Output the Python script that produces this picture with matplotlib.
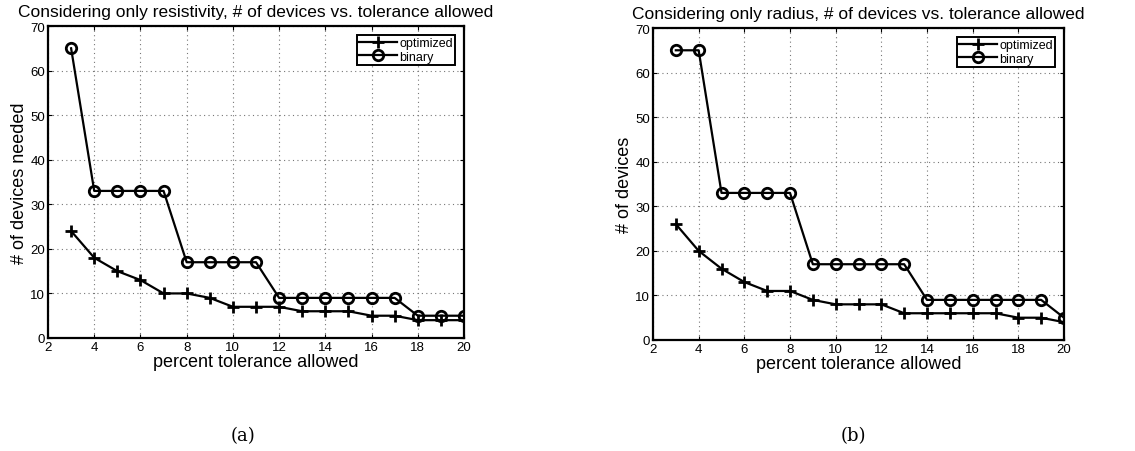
import numpy as np
import matplotlib
matplotlib.use('Agg')
import matplotlib.pyplot as plt

# tolerance (percent) on the x axis
tolerance = [3, 4, 5, 6, 7, 8, 9, 10, 11, 12, 13, 14, 15, 16, 17, 18, 19, 20]

# (a) resistivity only
res_optimized = [24, 18, 15, 13, 10, 10, 9, 7, 7, 7, 6, 6, 6, 5, 5, 4, 4, 4]
res_binary = [65, 33, 33, 33, 33, 17, 17, 17, 17, 9, 9, 9, 9, 9, 9, 5, 5, 5]

# (b) radius only
rad_optimized = [26, 20, 16, 13, 11, 11, 9, 8, 8, 8, 6, 6, 6, 6, 6, 5, 5, 4]
rad_binary = [65, 65, 33, 33, 33, 33, 17, 17, 17, 17, 17, 9, 9, 9, 9, 9, 9, 5]

titles = ['Considering only resistivity, # of devices vs. tolerance allowed',
          'Considering only radius, # of devices vs. tolerance allowed']
ylabels = ['# of devices needed', '# of devices']
captions = ['(a)', '(b)']
percent_label = 'percent tolerance allowed'

plt.rcParams['font.family'] = ['Liberation Sans', 'DejaVu Sans']


def draw_panel(ax, optimized, binary, title, ylabel):
    """
    Draw one matlab-looking panel
    """
    ax.plot(tolerance, optimized, color='black', linewidth=1.6, marker='+',
            markersize=8, markeredgewidth=2, label='optimized')
    ax.plot(tolerance, binary, color='black', linewidth=1.6, marker='o',
            markersize=7.5, markeredgewidth=2, markerfacecolor='none', label='binary')
    ax.set_xlim(2, 20)
    ax.set_ylim(0, 70)
    ax.set_xticks(np.arange(2, 21, 2))
    ax.set_yticks(np.arange(0, 71, 10))
    ax.tick_params(direction='in', top=True, right=True, labelsize=9.5, length=3, pad=2)
    ax.grid(True, linestyle=(0, (1, 3)), color='#777777', linewidth=0.8)
    for spine in ax.spines.values():
        spine.set_linewidth(1.6)
    ax.set_title(title, fontsize=12.5, pad=7)
    ax.set_xlabel(percent_label, fontsize=13, labelpad=0)
    ax.set_ylabel(ylabel, fontsize=13, labelpad=2)
    leg = ax.legend(loc='upper right', fontsize=9, fancybox=False, framealpha=1,
                    edgecolor='black', handlelength=3, borderpad=0.2, labelspacing=0.1,
                    handletextpad=0.2, borderaxespad=0.7)
    leg.get_frame().set_linewidth(1.4)


fig = plt.figure(figsize=(11.35, 4.52), dpi=100)
ax_a = fig.add_axes([48 / 1135, 1 - 339 / 452, 416 / 1135, 312 / 452])
ax_b = fig.add_axes([653 / 1135, 1 - 341 / 452, 411 / 1135, 312 / 452])

draw_panel(ax_a, res_optimized, res_binary, titles[0], ylabels[0])
draw_panel(ax_b, rad_optimized, rad_binary, titles[1], ylabels[1])

fig.text(243 / 1135, 1 - 436 / 452, captions[0], ha='center', va='center',
         fontsize=13, family='DejaVu Serif')
fig.text(853 / 1135, 1 - 436 / 452, captions[1], ha='center', va='center',
         fontsize=13, family='DejaVu Serif')

fig.savefig('out.png', dpi=100)
